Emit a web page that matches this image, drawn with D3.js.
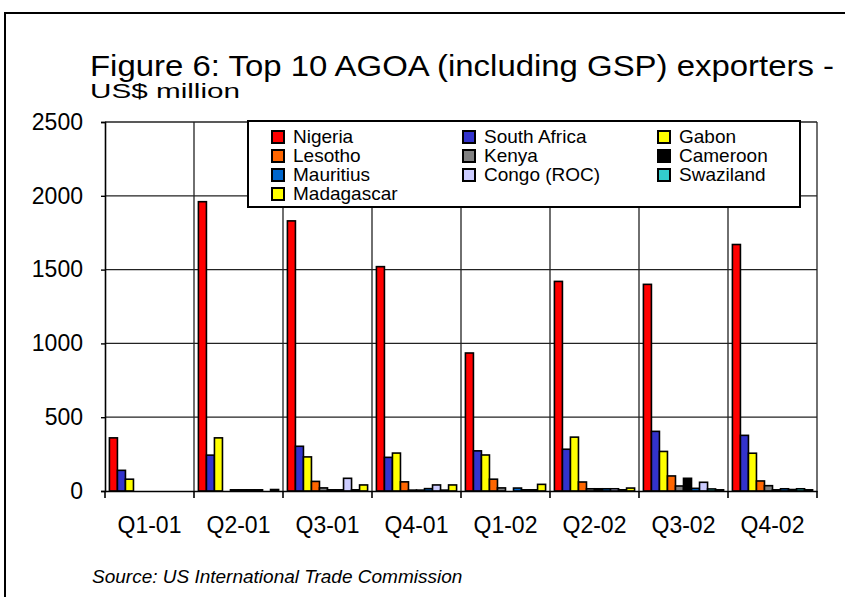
<!DOCTYPE html>
<html>
<head>
<meta charset="utf-8">
<script src="https://cdn.jsdelivr.net/npm/d3@7"></script>
<style>
  body { margin: 0; background: #fff; }
  svg { display: block; font-family: "Liberation Sans", Arial, sans-serif; }
</style>
</head>
<body>
<svg id="chart" width="845" height="597"></svg>
<script>
// quarters on the x axis
const quarters = ['Q1-01', 'Q2-01', 'Q3-01', 'Q4-01', 'Q1-02', 'Q2-02', 'Q3-02', 'Q4-02'];
const countries = ['Nigeria', 'South Africa', 'Gabon', 'Lesotho', 'Kenya', 'Cameroon', 'Mauritius', 'Congo (ROC)', 'Swaziland', 'Madagascar'];
const colors = ['#ff0000', '#3333cc', '#ffff00', '#ff6600', '#808080', '#000000', '#0066cc', '#ccccff', '#33cccc', '#ffff00'];

// US$ million
const nigeria     = [360, 1960, 1830, 1520, 935, 1420, 1400, 1670];
const southAfrica = [140, 243, 303, 228, 272, 283, 404, 377];
const gabon       = [80, 360, 231, 257, 244, 365, 268, 256];
const lesotho     = [0, 0, 65, 62, 80, 61, 102, 68];
const kenya       = [0, 8, 21, 6, 21, 15, 34, 36];
const cameroon    = [0, 8, 8, 6, 0, 15, 86, 8];
const mauritius   = [0, 8, 8, 16, 20, 15, 18, 15];
const congo       = [0, 8, 86, 41, 8, 15, 59, 10];
const swaziland   = [0, 0, 8, 6, 8, 8, 14, 15];
const madagascar  = [0, 10, 41, 41, 45, 20, 8, 8];
const yTicks = [0, 500, 1000, 1500, 2000, 2500];

const seriesValues = [nigeria, southAfrica, gabon, lesotho, kenya, cameroon, mauritius, congo, swaziland, madagascar];

const svg = d3.select('#chart');
const margin = { top: 122, left: 105, right: 28, bottom: 106 };
const width = 845 - margin.left - margin.right;
const height = 597 - margin.top - margin.bottom;

// outer frame (runs off the right and bottom edges)
svg.append('rect')
    .attr('x', 5).attr('y', 13)
    .attr('width', 860).attr('height', 600)
    .attr('fill', 'none')
    .attr('stroke', '#000')
    .attr('stroke-width', 2);

// titles
svg.append('text')
    .attr('x', 90).attr('y', 76)
    .attr('font-size', 29)
    .attr('textLength', 744)
    .attr('lengthAdjust', 'spacingAndGlyphs')
    .text('Figure 6: Top 10 AGOA (including GSP) exporters -');

svg.append('text')
    .attr('x', 90).attr('y', 98)
    .attr('font-size', 20)
    .attr('textLength', 150)
    .attr('lengthAdjust', 'spacingAndGlyphs')
    .text('US$ million');

const g = svg.append('g')
    .attr('transform', `translate(${margin.left},${margin.top})`);

const x0 = d3.scaleBand()
    .domain(quarters)
    .range([0, width])
    .padding(0);

const x1 = d3.scaleBand()
    .domain(countries)
    .range([0, x0.bandwidth()])
    .paddingInner(0)
    .paddingOuter(0.55);

const y = d3.scaleLinear()
    .domain([0, 2500])
    .range([height, 0]);

// horizontal gridlines
g.selectAll('.hgrid')
    .data(yTicks.filter(d => d > 0))
    .enter()
    .append('line')
    .attr('x1', 0).attr('x2', width)
    .attr('y1', d => y(d)).attr('y2', d => y(d))
    .attr('stroke', '#222')
    .attr('stroke-width', 1.3);

// vertical gridlines between quarters
g.selectAll('.vgrid')
    .data(quarters)
    .enter()
    .append('line')
    .attr('x1', d => x0(d) + x0.bandwidth()).attr('x2', d => x0(d) + x0.bandwidth())
    .attr('y1', 0).attr('y2', height)
    .attr('stroke', '#222')
    .attr('stroke-width', 1.3);

// bars
const groups = g.selectAll('.quarter')
    .data(quarters)
    .enter()
    .append('g')
    .attr('transform', d => `translate(${x0(d)},0)`);

groups.selectAll('rect')
    .data((q, qi) => countries.map((c, ci) => ({ country: c, color: colors[ci], value: seriesValues[ci][qi] })))
    .enter()
    .append('rect')
    .attr('x', d => x1(d.country))
    .attr('y', d => y(d.value))
    .attr('width', x1.bandwidth())
    .attr('height', d => height - y(d.value))
    .attr('fill', d => d.color)
    .attr('stroke', '#000')
    .attr('stroke-width', 1.6);

// y axis
const yAxis = g.append('g')
    .call(d3.axisLeft(y).tickValues(yTicks).tickSize(4).tickPadding(18).tickFormat(d3.format('d')));
yAxis.select('.domain').attr('stroke', '#000').attr('stroke-width', 1.6);
yAxis.selectAll('.tick line').attr('stroke', '#000').attr('stroke-width', 1.4);
yAxis.selectAll('.tick text')
    .attr('font-size', 23)
    .attr('font-family', '"Liberation Sans", Arial, sans-serif')
    .attr('fill', '#000');

// x axis with ticks at the quarter boundaries
const xAxis = g.append('g')
    .attr('transform', `translate(0,${height})`)
    .call(d3.axisBottom(x0).tickSize(0).tickPadding(26));
xAxis.select('.domain').attr('stroke', '#000').attr('stroke-width', 1.6);
xAxis.selectAll('.tick text')
    .attr('font-size', 23)
    .attr('font-family', '"Liberation Sans", Arial, sans-serif')
    .attr('fill', '#000');

g.append('g')
    .selectAll('line')
    .data([0].concat(quarters.map(q => x0(q) + x0.bandwidth())))
    .enter()
    .append('line')
    .attr('x1', d => d).attr('x2', d => d)
    .attr('y1', height).attr('y2', height + 7)
    .attr('stroke', '#000')
    .attr('stroke-width', 1.6);

// legend
const legend = svg.append('g');
legend.append('rect')
    .attr('x', 248).attr('y', 121)
    .attr('width', 552).attr('height', 86)
    .attr('fill', '#fff')
    .attr('stroke', '#000')
    .attr('stroke-width', 2);

const legendCols = [272, 463, 658];
const legendItems = legend.selectAll('.item')
    .data(countries)
    .enter()
    .append('g')
    .attr('transform', (d, i) => `translate(${legendCols[i % 3]},${131 + Math.floor(i / 3) * 19})`);

legendItems.append('rect')
    .attr('width', 12).attr('height', 12)
    .attr('fill', (d, i) => colors[i])
    .attr('stroke', '#000')
    .attr('stroke-width', 2);

legendItems.append('text')
    .attr('x', 21).attr('y', 12)
    .attr('font-size', 19)
    .text(d => d);

// source note
svg.append('text')
    .attr('x', 92).attr('y', 583)
    .attr('font-size', 19)
    .attr('font-style', 'italic')
    .text('Source: US International Trade Commission');
</script>
</body>
</html>
